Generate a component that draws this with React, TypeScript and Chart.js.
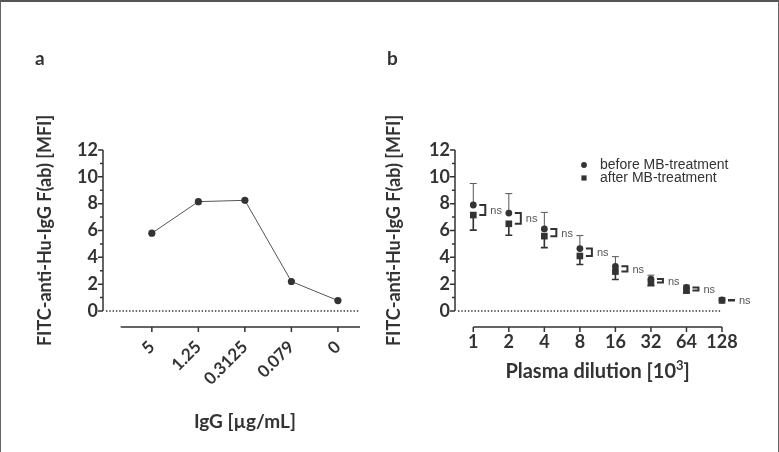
import React, { useEffect, useRef } from "react";
import { Chart, registerables } from "chart.js";

Chart.register(...registerables);

const FONT = "Lato, 'Open Sans', 'DejaVu Sans', sans-serif";
const SANS = "'Liberation Sans', Arial, sans-serif";
const INK = "#333333";
const LINE_GREY = "#555555";

// ---------- shared ----------
const yTitle = "FITC-anti-Hu-IgG F(ab) [MFI]";
const yTickValues = [0, 2, 4, 6, 8, 10, 12];
const yMinorValues = [1, 3, 5, 7, 9, 11];

// ---------- panel a ----------
const panelA = "a";
const iggLabels = ["5", "1.25", "0.3125", "0.079", "0"];
const iggMfi = [5.8, 8.15, 8.25, 2.2, 0.78];
const xTitleA = "IgG [µg/mL]";

// ---------- panel b ----------
const panelB = "b";
const dilutions = [1, 2, 4, 8, 16, 32, 64, 128];
const beforeMean = [7.9, 7.3, 6.12, 4.65, 3.33, 2.38, 1.76, 0.82];
const beforeUpper = [9.5, 8.75, 7.35, 5.62, 4.05, 2.67, 1.92, 0.86];
const afterMean = [7.15, 6.5, 5.58, 4.1, 2.94, 2.12, 1.52, 0.79];
const afterLower = [6.03, 5.65, 4.72, 3.47, 2.35, 1.88, 1.38, 0.75];
const comparison = ["ns", "ns", "ns", "ns", "ns", "ns", "ns", "ns"];
const seriesNames = ["before MB-treatment", "after MB-treatment"];
const xTitleB = "Plasma dilution [10";
const xTitleBSup = "3";
const xTitleBEnd = "]";

type TitlePart = { text: string; size: number; rise: number };

const framePlugin = {
  id: "frame",
  beforeDatasetsDraw(chart: any, _a: any, o: any) {
    const { ctx, chartArea: ca } = chart;
    const x = chart.scales.x;
    const y = chart.scales.y;
    const y0 = y.getPixelForValue(0);
    const yTop = y.getPixelForValue(yTickValues[yTickValues.length - 1]);
    ctx.save();
    ctx.strokeStyle = INK;
    // dotted zero line
    ctx.lineWidth = 1.3;
    ctx.setLineDash([1.4, 1.9]);
    ctx.beginPath();
    ctx.moveTo(ca.left + 3, y0);
    ctx.lineTo(ca.right, y0);
    ctx.stroke();
    ctx.setLineDash([]);
    // y axis
    ctx.lineWidth = 1.5;
    ctx.beginPath();
    ctx.moveTo(ca.left, yTop);
    ctx.lineTo(ca.left, y0);
    yTickValues.forEach((v) => {
      const py = y.getPixelForValue(v);
      ctx.moveTo(ca.left - 5, py);
      ctx.lineTo(ca.left, py);
    });
    yMinorValues.forEach((v) => {
      const py = y.getPixelForValue(v);
      ctx.moveTo(ca.left - 3, py);
      ctx.lineTo(ca.left, py);
    });
    ctx.stroke();
    // x axis (offset below plot)
    const ax = y0 + o.axisGap;
    const tickPx: number[] = o.tickValues.map((v: number) => x.getPixelForValue(v));
    const xs = o.axisFrom != null ? x.getPixelForValue(o.axisFrom) : tickPx[0];
    const xe = o.axisTo != null ? x.getPixelForValue(o.axisTo) : tickPx[tickPx.length - 1];
    ctx.beginPath();
    ctx.moveTo(xs, ax);
    ctx.lineTo(xe, ax);
    tickPx.forEach((px) => {
      ctx.moveTo(px, ax);
      ctx.lineTo(px, ax + 5);
    });
    ctx.stroke();
    // x title, centred on the ticks
    const parts: TitlePart[] = o.xTitle;
    ctx.fillStyle = INK;
    ctx.textBaseline = "alphabetic";
    ctx.textAlign = "left";
    let total = 0;
    parts.forEach((p) => {
      ctx.font = `bold ${p.size}px ${FONT}`;
      total += ctx.measureText(p.text).width;
    });
    let cx = (tickPx[0] + tickPx[tickPx.length - 1]) / 2 - total / 2;
    const base = y0 + o.titleBaseline;
    parts.forEach((p) => {
      ctx.font = `bold ${p.size}px ${FONT}`;
      ctx.fillText(p.text, cx, base - p.rise);
      cx += ctx.measureText(p.text).width;
    });
    // panel letter
    ctx.font = `bold 19px ${FONT}`;
    ctx.fillText(o.letter, ca.left - o.letterDx, 65);
    ctx.restore();
  },
};

const errorPlugin = {
  id: "errs",
  beforeDatasetsDraw(chart: any) {
    const { ctx } = chart;
    const x = chart.scales.x;
    const y = chart.scales.y;
    const bar = (px: number, from: number, to: number, color: string, w: number) => {
      if (Math.abs(to - from) < 1) return;
      ctx.strokeStyle = color;
      ctx.lineWidth = w;
      ctx.beginPath();
      ctx.moveTo(px, from);
      ctx.lineTo(px, to);
      ctx.moveTo(px - 3.5, to);
      ctx.lineTo(px + 3.5, to);
      ctx.stroke();
    };
    ctx.save();
    dilutions.forEach((d, i) => {
      const px = x.getPixelForValue(d);
      bar(px, y.getPixelForValue(beforeMean[i]), y.getPixelForValue(beforeUpper[i]), LINE_GREY, 1);
      bar(px, y.getPixelForValue(afterMean[i]), y.getPixelForValue(afterLower[i]), INK, 1.6);
    });
    ctx.restore();
  },
  afterDatasetsDraw(chart: any) {
    const { ctx, chartArea: ca } = chart;
    const x = chart.scales.x;
    const y = chart.scales.y;
    ctx.save();
    ctx.strokeStyle = INK;
    ctx.lineWidth = 2;
    ctx.fillStyle = LINE_GREY;
    ctx.font = `11px ${SANS}`;
    ctx.textBaseline = "middle";
    ctx.textAlign = "left";
    dilutions.forEach((d, i) => {
      const px = x.getPixelForValue(d);
      const ya = y.getPixelForValue(beforeMean[i]);
      const yb = y.getPixelForValue(afterMean[i]);
      const b1 = px + 6;
      const b2 = px + 12;
      ctx.beginPath();
      ctx.moveTo(b1, ya);
      ctx.lineTo(b2, ya);
      ctx.lineTo(b2, yb);
      ctx.lineTo(b1, yb);
      ctx.stroke();
      ctx.fillText(comparison[i], b2 + 5, (ya + yb) / 2 + 1);
    });
    // legend
    const lx = ca.left + 129;
    const ly = ca.top + 15;
    ctx.fillStyle = INK;
    ctx.beginPath();
    ctx.arc(lx, ly, 2.9, 0, Math.PI * 2);
    ctx.fill();
    ctx.fillRect(lx - 2.6, ly + 13 - 2.6, 5.2, 5.2);
    ctx.font = `14px ${SANS}`;
    ctx.fillText(seriesNames[0], lx + 16, ly);
    ctx.fillText(seriesNames[1], lx + 16, ly + 13);
    ctx.restore();
  },
};

const tickFont = { family: FONT, size: 18, weight: "bold" as const };
const titleFont = { family: FONT, size: 18, weight: "bold" as const };

function yScale(width: number, titlePad: number) {
  return {
    min: 0,
    max: 12,
    afterBuildTicks: (s: any) => {
      s.ticks = yTickValues.map((v) => ({ value: v }));
    },
    afterFit: (s: any) => {
      s.width = width;
    },
    grid: { display: false, drawTicks: false },
    border: { display: false },
    ticks: { padding: 5, color: INK, font: tickFont },
    title: {
      display: true,
      text: yTitle,
      color: INK,
      font: titleFont,
      padding: { top: titlePad, bottom: 0 },
    },
  };
}

function configA(): any {
  return {
    type: "line",
    data: {
      datasets: [
        {
          data: iggMfi.map((v, i) => ({ x: i, y: v })),
          borderColor: LINE_GREY,
          borderWidth: 1,
          pointRadius: 3.6,
          pointBackgroundColor: INK,
          pointBorderWidth: 0,
          tension: 0,
          clip: false,
        },
      ],
    },
    options: {
      responsive: false,
      animation: false,
      events: [],
      layout: { padding: { left: 30, right: 30, top: 150, bottom: 21 } },
      plugins: {
        legend: { display: false },
        tooltip: { enabled: false },
        frame: {
          axisGap: 16,
          tickValues: iggLabels.map((_, i) => i),
          axisFrom: -0.67,
          axisTo: 4.475,
          xTitle: [{ text: xTitleA, size: 19, rise: 0 }],
          titleBaseline: 117,
          letter: panelA,
          letterDx: 68,
        },
      },
      scales: {
        x: {
          type: "linear",
          min: -1.05,
          max: 4.475,
          afterBuildTicks: (s: any) => {
            s.ticks = iggLabels.map((_, i) => ({ value: i }));
          },
          afterFit: (s: any) => {
            s.height = 120;
          },
          grid: { display: false, drawTicks: false },
          border: { display: false },
          ticks: {
            minRotation: 45,
            maxRotation: 45,
            autoSkip: false,
            padding: 26,
            color: INK,
            font: { family: FONT, size: 17, weight: "bold" },
            callback: (v: number) => iggLabels[v],
          },
        },
        y: yScale(73, 4),
      },
    },
    plugins: [framePlugin],
  };
}

function configB(): any {
  return {
    type: "line",
    data: {
      datasets: [
        {
          label: seriesNames[0],
          data: dilutions.map((d, i) => ({ x: d, y: beforeMean[i] })),
          showLine: false,
          pointStyle: "circle",
          pointRadius: 3.4,
          pointBackgroundColor: INK,
          pointBorderWidth: 0,
          clip: false,
        },
        {
          label: seriesNames[1],
          data: dilutions.map((d, i) => ({ x: d, y: afterMean[i] })),
          showLine: false,
          pointStyle: "rect",
          pointRadius: 4.7,
          pointBackgroundColor: INK,
          pointBorderWidth: 0,
          clip: false,
        },
      ],
    },
    options: {
      responsive: false,
      animation: false,
      events: [],
      layout: { padding: { left: 0, right: 57, top: 150, bottom: 81 } },
      plugins: {
        legend: { display: false },
        tooltip: { enabled: false },
        frame: {
          axisGap: 16,
          tickValues: dilutions,
          axisFrom: null,
          axisTo: null,
          xTitle: [
            { text: xTitleB, size: 20, rise: 0 },
            { text: xTitleBSup, size: 13, rise: 8 },
            { text: xTitleBEnd, size: 20, rise: 0 },
          ],
          titleBaseline: 67,
          letter: panelB,
          letterDx: 68,
        },
      },
      scales: {
        x: {
          type: "logarithmic",
          min: dilutions[0] / Math.pow(2, 0.446),
          max: dilutions[dilutions.length - 1],
          afterBuildTicks: (s: any) => {
            s.ticks = dilutions.map((v) => ({ value: v }));
          },
          afterFit: (s: any) => {
            s.height = 60;
          },
          grid: { display: false, drawTicks: false },
          border: { display: false },
          ticks: {
            maxRotation: 0,
            minRotation: 0,
            autoSkip: false,
            padding: 20,
            color: INK,
            font: tickFont,
            callback: (v: number) => String(v),
          },
        },
        y: yScale(75, 3),
      },
    },
    plugins: [framePlugin, errorPlugin],
  };
}

function Panel({ left, width, make }: { left: number; width: number; make: () => any }) {
  const ref = useRef<HTMLCanvasElement>(null);
  useEffect(() => {
    const chart = new Chart(ref.current as HTMLCanvasElement, make());
    return () => chart.destroy();
  }, []);
  return (
    <canvas
      ref={ref}
      width={width}
      height={452}
      style={{ position: "absolute", left, top: 0, width, height: 452 }}
    />
  );
}

export default function App() {
  return (
    <div
      style={{
        position: "absolute",
        left: 0,
        top: 0,
        width: 779,
        height: 452,
        background: "#ffffff",
        overflow: "hidden",
      }}
    >
      <Panel left={0} width={390} make={configA} />
      <Panel left={380} width={399} make={configB} />
      <div
        style={{
          position: "absolute",
          left: 0,
          top: 0,
          width: 779,
          height: 452,
          boxSizing: "border-box",
          borderTop: "2px solid #555",
          borderLeft: "1px solid #666",
          borderRight: "1px solid #666",
          pointerEvents: "none",
        }}
      />
    </div>
  );
}
